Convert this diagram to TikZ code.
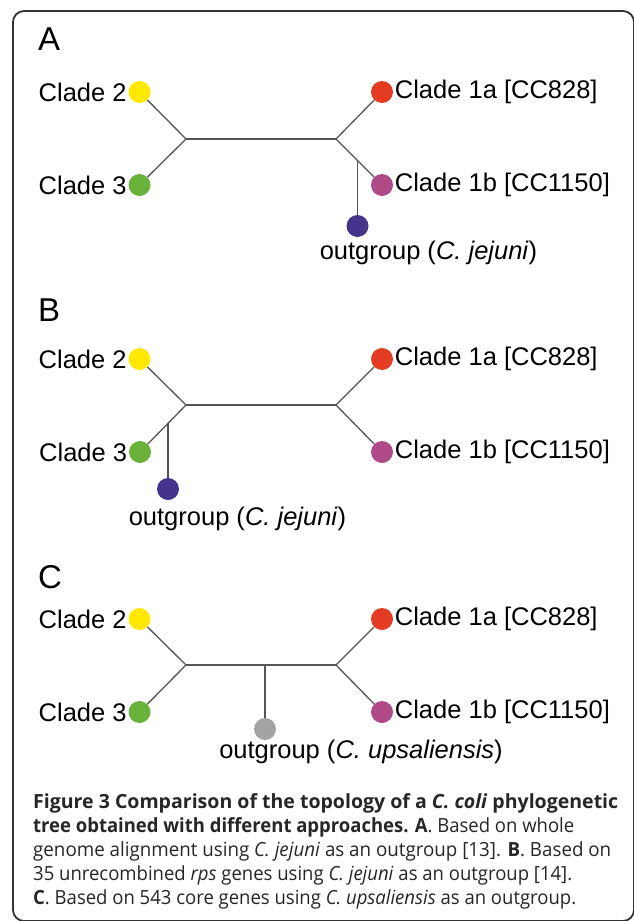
\documentclass[tikz,border=0pt]{standalone}
\usepackage{fontspec}
\usepackage{graphicx}
\setmainfont{Liberation Sans}
\newfontfamily\capfont{Open Sans}
\definecolor{linegray}{HTML}{555555}
\definecolor{framegray}{HTML}{333333}
\definecolor{cladetwo}{HTML}{FFE900}
\definecolor{cladethree}{HTML}{6AB23A}
\definecolor{cladeonea}{HTML}{E43B23}
\definecolor{cladeoneb}{HTML}{B04A87}
\definecolor{jejuni}{HTML}{46348C}
\definecolor{upsal}{HTML}{A3A3A3}
% caption line set to a given width, keeping its height
\newcommand{\capfit}[2]{\resizebox{#1pt}{\height}{#2}}
\begin{document}
\begin{tikzpicture}[x=1pt,y=-1pt,
  branch/.style={draw=linegray, line width=1.3pt},
  leaf/.style={circle, inner sep=0pt, minimum size=22pt, fill=#1},
  lab/.style={font=\fontsize{25.5}{30}\selectfont, inner sep=1.5pt},
  panel/.style={font=\fontsize{33}{38}\selectfont, anchor=west, inner sep=0pt},
  capline/.style={anchor=base west, inner sep=0pt, text=black!85, font=\capfont\fontsize{19.5}{23}\selectfont}]
\useasboundingbox (0,0) rectangle (634,921);
\begin{scope}
  \clip (0,0) rectangle (634,921);
  \draw[framegray, line width=1.8pt, rounded corners=11pt] (13,11) rectangle (634,921);
\end{scope}

% ---- panel A: outgroup C. jejuni joins the clade 1b branch
\node[panel] (pA) at (38,39) {A};
\coordinate (lA) at (186,139);
\coordinate (rA) at (336,139);
\coordinate (oA) at (357.5,160.5);
\node[leaf=cladetwo]   (c2A)  at (139.5,92)  {};
\node[leaf=cladethree] (c3A)  at (139.5,185) {};
\node[leaf=cladeonea]  (c1aA) at (382,92)    {};
\node[leaf=cladeoneb]  (c1bA) at (382,185)   {};
\node[leaf=jejuni]     (ogA)  at (357.5,226) {};
\draw[branch] (c2A) -- (lA) -- (c3A);
\draw[branch] (lA) -- (rA);
\draw[branch] (c1aA) -- (rA) -- (c1bA);
\draw[branch] (oA) -- (ogA);
\node[lab, anchor=east] (t2A)  at (c2A.west)  {Clade 2};
\node[lab, anchor=east] (t3A)  at (c3A.west)  {Clade 3};
\node[lab, anchor=west] (t1aA) at (c1aA.east) {Clade 1a [CC828]};
\node[lab, anchor=west] (t1bA) at (c1bA.east) {Clade 1b [CC1150]};
\node[lab] (tgA) at (428.5,253) {outgroup (\textit{C. jejuni})};

% ---- panel B: outgroup C. jejuni joins the clade 3 branch
\node[panel] (pB) at (38,310) {B};
\coordinate (lB) at (186,405);
\coordinate (rB) at (336,405);
\coordinate (oB) at (168,423.4);
\node[leaf=cladetwo]   (c2B)  at (139.5,359) {};
\node[leaf=cladethree] (c3B)  at (140,452)   {};
\node[leaf=cladeonea]  (c1aB) at (382,359)   {};
\node[leaf=cladeoneb]  (c1bB) at (382,452)   {};
\node[leaf=jejuni]     (ogB)  at (168,489)   {};
\draw[branch] (c2B) -- (lB) -- (c3B);
\draw[branch] (lB) -- (rB);
\draw[branch] (c1aB) -- (rB) -- (c1bB);
\draw[branch] (oB) -- (ogB);
\node[lab, anchor=east] (t2B)  at (c2B.west)  {Clade 2};
\node[lab, anchor=east] (t3B)  at (c3B.west)  {Clade 3};
\node[lab, anchor=west] (t1aB) at (c1aB.east) {Clade 1a [CC828]};
\node[lab, anchor=west] (t1bB) at (c1bB.east) {Clade 1b [CC1150]};
\node[lab] (tgB) at (237.5,519) {outgroup (\textit{C. jejuni})};

% ---- panel C: outgroup C. upsaliensis joins the central branch
\node[panel] (pC) at (38,577) {C};
\coordinate (lC) at (186,665);
\coordinate (rC) at (336,665);
\coordinate (oC) at (265,665);
\node[leaf=cladetwo]   (c2C)  at (139.5,619) {};
\node[leaf=cladethree] (c3C)  at (139.5,712) {};
\node[leaf=cladeonea]  (c1aC) at (382,619)   {};
\node[leaf=cladeoneb]  (c1bC) at (382,712)   {};
\node[leaf=upsal]      (ogC)  at (265,729)   {};
\draw[branch] (c2C) -- (lC) -- (c3C);
\draw[branch] (lC) -- (rC);
\draw[branch] (c1aC) -- (rC) -- (c1bC);
\draw[branch] (oC) -- (ogC);
\node[lab, anchor=east] (t2C)  at (c2C.west)  {Clade 2};
\node[lab, anchor=east] (t3C)  at (c3C.west)  {Clade 3};
\node[lab, anchor=west] (t1aC) at (c1aC.east) {Clade 1a [CC828]};
\node[lab, anchor=west] (t1bC) at (c1bC.east) {Clade 1b [CC1150]};
\node[lab] (tgC) at (361,752) {outgroup (\textit{C. upsaliensis})};

% ---- caption
\node[capline] (cap1) at (33,808) {\capfit{585}{\textbf{Figure 3 Comparison of the topology of a \textit{C. coli} phylogenetic}}};
\node[capline] (cap2) at (33,832) {\capfit{541}{\textbf{tree obtained with different approaches. A}. Based on whole}};
\node[capline] (cap3) at (33,856) {\capfit{578}{genome alignment using \textit{C. jejuni} as an outgroup [13]. \textbf{B}. Based on}};
\node[capline] (cap4) at (33,880) {\capfit{539}{35 unrecombined \textit{rps} genes using \textit{C. jejuni} as an outgroup [14].}};
\node[capline] (cap5) at (33,904) {\capfit{543}{\textbf{C}. Based on 543 core genes using \textit{C. upsaliensis} as an outgroup.}};
\end{tikzpicture}
\end{document}
